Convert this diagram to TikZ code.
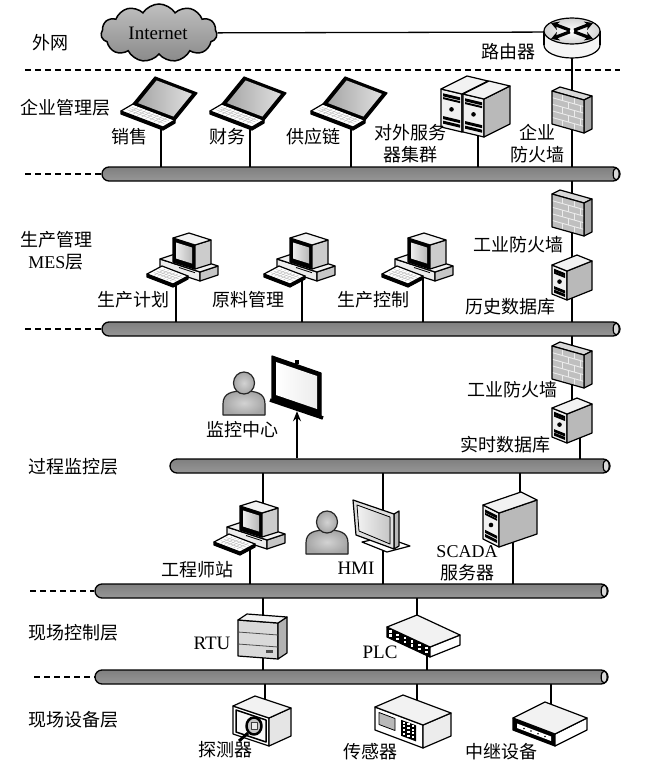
\documentclass[tikz,border=0pt]{standalone}
\usepackage{fontspec}
\setmainfont{Liberation Serif}
\newfontfamily\cjk{Noto Sans CJK SC}
\usetikzlibrary{shapes.symbols,arrows.meta,calc}
\pgfdeclarelayer{paper}
\pgfdeclarelayer{bg}
\pgfsetlayers{paper,bg,main}

% isometric box: front-top-left (#1,#2), front vector (#3,#4), side vector (#5,#6), height #7,
% front fill #8, side fill #9
\newcommand\isobox[9]{%
  \filldraw[fill=#8] (#1,#2) -- ++(#3,#4) -- ++(0,#7) -- ++({-1*(#3)},{-1*(#4)}) -- cycle;
  \filldraw[fill=#9] ({#1+#3},{#2+#4}) -- ++(#5,#6) -- ++(0,#7) -- ++({-1*(#5)},{-1*(#6)}) -- cycle;
  \filldraw[fill=gray!10] (#1,#2) -- ++(#3,#4) -- ++(#5,#6) -- ++({-1*(#3)},{-1*(#4)}) -- cycle;}

% key grid inside quadrilateral A B C D
\newcommand\keygrid[6]{%
  \foreach \kgt in {1,...,#5}{\pgfmathsetmacro\kgf{\kgt/(#5+1)}
    \draw[gray!55, line width=0.4pt] ($#1!\kgf!#2$) -- ($#4!\kgf!#3$);}
  \foreach \kgt in {1,...,#6}{\pgfmathsetmacro\kgf{\kgt/(#6+1)}
    \draw[gray!55, line width=0.4pt] ($#1!\kgf!#4$) -- ($#2!\kgf!#3$);}}

% server tower with drive bays on its front
\newcommand\tower[7]{%
  \isobox{#1}{#2}{#3}{#4}{#5}{#6}{#7}{gray!12}{gray!55}
  \pgfmathsetmacro\twsl{(#4)/(#3)}
  \foreach \twf/\twh in {0.10/3, 0.20/2, 0.70/3, 0.82/3}{
    \fill ({#1+2},{#2+2*\twsl+\twf*#7}) -- ++({#3-4},{(#3-4)*\twsl}) -- ++(0,\twh)
      -- ++({-(#3-4)},{-(#3-4)*\twsl}) -- cycle;}
  \fill ({#1+#3/2},{#2+#4/2+0.47*#7}) circle[radius=2.3pt];}

\newcommand\laptop[2]{%
  \begin{scope}[shift={(#1,#2)}]
    \filldraw[fill=black] (-38,8) -- (4,24) -- (16,17) -- (16,20) -- (4,27) -- (-38,11) -- cycle;
    \filldraw[fill=white] (-38,8) -- (4,24) -- (16,17) -- (-26,1) -- cycle;
    \keygrid{(-34,8)}{(3,22)}{(12,16)}{(-25,3)}{8}{3}
    \filldraw[fill=black] (-26,1) -- (16,17) -- (38,-10) -- (-4,-26) -- cycle;
    \fill[left color=gray!70, right color=gray!25]
      ($(-26,1)!0.16!(6,-4.5)$) -- ($(16,17)!0.16!(6,-4.5)$) --
      ($(38,-10)!0.16!(6,-4.5)$) -- ($(-4,-26)!0.16!(6,-4.5)$) -- cycle;
  \end{scope}}

\newcommand\desktop[2]{%
  \begin{scope}[shift={(#1,#2)}]
    \isobox{-23}{0}{40}{13}{18}{-6}{9}{gray!15}{gray!45}
    \draw[line width=0.8pt] (-4,8.5) -- (12,13.7);
    \isobox{-10}{-21}{22}{7}{16}{-5}{24}{black}{gray!40}
    \fill[left color=gray!15, right color=gray!55] (-7,-16.5) -- (9,-11.5) -- (9,4.5) -- (-7,-0.5) -- cycle;
    \filldraw[fill=black] (-36,15) -- (-10,25) -- (5,17) -- (5,20) -- (-10,28) -- (-36,18) -- cycle;
    \filldraw[fill=white] (-36,15) -- (-10,25) -- (5,17) -- (-21,7) -- cycle;
    \keygrid{(-32,15)}{(-10,23)}{(2,17)}{(-21,9)}{6}{3}
  \end{scope}}

\newcommand\firewall[2]{%
  \begin{scope}[shift={(#1,#2)}]
    \filldraw[fill=gray!30] (-20,-18) -- (-12,-22) -- (20,-13) -- (12,-9) -- cycle;
    \filldraw[fill=gray!70] (12,-9) -- (20,-13) -- (20,20) -- (12,24) -- cycle;
    \fill[gray!50] (-20,-18) -- (12,-9) -- (12,24) -- (-20,15) -- cycle;
    \begin{scope}
      \clip (-20,-18) -- (12,-9) -- (12,24) -- (-20,15) -- cycle;
      \foreach \r in {1,...,4} \draw[gray!15, line width=0.9pt] (-20,{-18+6.6*\r}) -- ++(32,9);
      \foreach \r/\a/\b in {0/-10/2, 1/-4/8, 2/-10/2, 3/-4/8, 4/-10/2}{
        \draw[gray!15, line width=0.9pt] (\a,{-18+6.6*\r+(\a+20)*9/32}) -- ++(0,6.6);
        \draw[gray!15, line width=0.9pt] (\b,{-18+6.6*\r+(\b+20)*9/32}) -- ++(0,6.6);}
    \end{scope}
    \draw (-20,-18) -- (12,-9) -- (12,24) -- (-20,15) -- cycle;
  \end{scope}}

\newcommand\person[2]{%
  \begin{scope}[shift={(#1,#2)}]
    \filldraw[draw=gray!30!black, inner color=gray!35, outer color=gray!70]
      (-21,21) -- (-21,10) .. controls (-21,-1) and (-12,-3) .. (0,-3)
      .. controls (12,-3) and (21,-1) .. (21,10) -- (21,21) -- cycle;
    \filldraw[draw=gray!30!black, inner color=gray!35, outer color=gray!70]
      (0,-11) ellipse [x radius=10.5pt, y radius=11pt];
  \end{scope}}

\newcommand\busend[1]{%
  \draw[line width=1.2pt, fill=gray!30] ($(#1.east)+(-4.5,0)$) ellipse [x radius=3pt, y radius=6pt];}

\begin{document}
\begin{tikzpicture}[x=1pt,y=-1pt,
  icon/.style={line width=1.2pt, line join=round},
  wire/.style={line width=1.3pt},
  layersep/.style={line width=1.2pt, dash pattern=on 6pt off 4pt},
  bus/.style={draw, line width=1.3pt, rounded corners=7pt, minimum height=14pt, inner sep=0pt,
    top color=gray!100, bottom color=gray!82},
  anchorpt/.style={inner sep=0pt, minimum size=0pt},
  zhtxt/.style={font=\cjk\fontsize{18}{22}\selectfont, inner sep=0pt, align=center},
  entxt/.style={font=\rmfamily\fontsize{19}{22}\selectfont, inner sep=0pt, align=center}]

\begin{pgfonlayer}{paper}
  \fill[white] (0,0) rectangle (650,764);
\end{pgfonlayer}
\useasboundingbox (0,0) rectangle (650,764);

% ---------------- separators and buses ----------------
\coordinate (s0a) at (25,70);
\coordinate (s0b) at (620,70);
\coordinate (s1) at (25,174);
\coordinate (s2) at (25,329);
\coordinate (s4) at (30,591);
\coordinate (s5) at (34,677);

\node[bus, minimum width=518pt] (bus1) at (361,174) {};
\node[bus, minimum width=518pt] (bus2) at (361,329) {};
\node[bus, minimum width=440pt] (bus3) at (390,466) {};
\node[bus, minimum width=513pt] (bus4) at (351.5,591) {};
\node[bus, minimum width=513pt] (bus5) at (351.5,677) {};
\busend{bus1}\busend{bus2}\busend{bus3}\busend{bus4}\busend{bus5}

\draw[layersep] (s0a) -- (s0b);
\draw[layersep] (s1) -- (bus1.west);
\draw[layersep] (s2) -- (bus2.west);
\draw[layersep] (s4) -- (bus4.west);
\draw[layersep] (s5) -- (bus5.west);

% ---------------- connection points ----------------
\node[anchorpt] (router) at (572,32) {};
\node[anchorpt] (sale) at (161,103) {};
\node[anchorpt] (fin) at (250,103) {};
\node[anchorpt] (supply) at (351,103) {};
\node[anchorpt] (farm) at (478,112) {};
\node[anchorpt] (fw1) at (572,109) {};
\node[anchorpt] (pc1) at (176,259) {};
\node[anchorpt] (pc2) at (302,259) {};
\node[anchorpt] (pc3) at (423,259) {};
\node[anchorpt] (fw2) at (572,212) {};
\node[anchorpt] (db1) at (572,277) {};
\node[anchorpt] (fw3) at (572,364) {};
\node[anchorpt] (db2) at (572,420) {};
\node[anchorpt] (db2L) at (580,420) {};
\node[anchorpt] (scr) at (297,411) {};
\node[anchorpt] (engT) at (263,527) {};
\node[anchorpt] (engB) at (250,527) {};
\node[anchorpt] (hmi) at (383,527) {};
\node[anchorpt] (scadaT) at (520,518) {};
\node[anchorpt] (scadaB) at (513,518) {};
\node[anchorpt] (rtu) at (263,636) {};
\node[anchorpt] (plcT) at (417,637) {};
\node[anchorpt] (plcB) at (427,637) {};
\node[anchorpt] (det) at (265,722) {};
\node[anchorpt] (sens) at (417,722) {};
\node[anchorpt] (relay) at (551,725) {};

% cloud
\node[cloud, cloud puffs=11, cloud puff arc=115, aspect=2.1, draw, line width=1.5pt,
  minimum width=116pt, minimum height=58pt, inner sep=0pt,
  top color=gray!50, bottom color=gray!92] (cloud) at (159,33) {};

% ---------------- wires ----------------
\begin{pgfonlayer}{bg}
  \draw[wire] (cloud) -- (router);
  \draw[wire] (router) -- (fw1) -- (fw2) -- (db1) -- (fw3) -- (db2);
  \draw[wire] (db2L) -- (db2L |- bus3);
  \foreach \d in {sale,fin,supply,farm}{\draw[wire] (\d) -- (\d |- bus1);}
  \foreach \d in {pc1,pc2,pc3}{\draw[wire] (\d) -- (\d |- bus2);}
  \draw[wire] (engT) -- (engT |- bus3);
  \draw[wire] (engB) -- (engB |- bus4);
  \draw[wire] (hmi |- bus3) -- (hmi |- bus4);
  \draw[wire] (scadaT) -- (scadaT |- bus3);
  \draw[wire] (scadaB) -- (scadaB |- bus4);
  \draw[wire] (rtu |- bus4) -- (rtu |- bus5);
  \draw[wire] (plcT) -- (plcT |- bus4);
  \draw[wire] (plcB) -- (plcB |- bus5);
  \foreach \d in {det,sens,relay}{\draw[wire] (\d) -- (\d |- bus5);}
\end{pgfonlayer}

% ---------------- icons ----------------
\begin{scope}[icon]
  % router
  \begin{scope}[shift={(572,31)}]
    \filldraw[fill=gray!8] (0,14) ellipse [x radius=28pt, y radius=13pt];
    \fill[gray!8] (-28,0) rectangle (28,14);
    \draw (-28,0) -- (-28,14) (28,0) -- (28,14);
    \filldraw[inner color=white, outer color=gray!35] (0,0) ellipse [x radius=28pt, y radius=13pt];
    \foreach \ex/\ey in {-21/-8, 21/8, -21/8, 21/-8}
      \draw[line width=3.2pt, -{Stealth[length=8pt,width=9pt]}] ({\ex*0.1},{\ey*0.1}) -- (\ex,\ey);
  \end{scope}

  % enterprise layer
  \laptop{159}{103}
  \laptop{248}{103}
  \laptop{349}{103}
  \tower{441}{89}{21}{5}{26}{-13}{38}
  \tower{463}{94}{21}{5}{26}{-13}{38}
  \firewall{572}{109}

  % MES layer
  \desktop{183}{259}
  \desktop{300}{259}
  \desktop{418}{259}
  \firewall{572}{212}
  \tower{552}{265}{15}{6}{25}{-10}{29}

  % supervision layer
  \firewall{572}{364}
  \tower{552}{408}{15}{6}{25}{-10}{29}
  \person{244}{394}
  \filldraw[fill=black] (272,356) -- (321,373) -- (321,416) -- (272,399) -- cycle;
  \fill[left color=white, right color=gray!15] (276,362) -- (317,376) -- (317,409) -- (276,395) -- cycle;
  \draw[line width=3.5pt] (270,400) -- (323,418);
  \fill (295,360) rectangle (299,364);
  \draw[line width=1.3pt, -{Stealth[length=10pt,width=8pt]}] (scr |- bus3.north) -- (scr);

  \desktop{250}{527}
  \person{327}{533}
  % HMI panel
  \filldraw[fill=white] (362,542) -- (385,537) -- (410,546) -- (387,552) -- cycle;
  \filldraw[fill=gray!55] (394,514) -- (399,511) -- (399,546) -- (394,549) -- cycle;
  \filldraw[fill=gray!25] (353,500) -- (394,514) -- (394,549) -- (356,535) -- cycle;
  \filldraw[left color=gray!10, right color=gray!45, line width=0.8pt]
    (357,505) -- (390,517) -- (390,544) -- (359,531) -- cycle;
  \tower{483}{505}{16}{8}{38}{-13}{34}

  % control layer
  \isobox{238}{620}{40}{3}{9}{-6}{36}{gray!30}{gray!60}
  \draw[gray!60!black, line width=0.8pt] (238,632) -- (278,635) (238,644) -- (278,647);
  \fill[gray!60!black] (266,650) rectangle (273,653);
  \isobox{387}{627}{43}{20}{30}{-12}{10}{black}{white}
  \foreach \i in {0,...,5}{
    \fill[white] ({387+(\i+0.5)*43/6-1.3},{627+(\i+0.5)*20/6+1.8}) rectangle ++(2.6,2.2);
    \fill[white] ({387+(\i+0.5)*43/6-1.3},{627+(\i+0.5)*20/6+5.8}) rectangle ++(2.6,2.2);}

  % field layer: detector
  \isobox{233}{706}{36}{12}{22}{-10}{28}{white}{gray!20}
  \filldraw[fill=gray!5, line width=1.5pt] (236,710) -- ++(30,10) -- ++(0,22) -- ++(-30,-10) -- cycle;
  \draw[line width=3pt] (248,733) -- (239,741);
  \filldraw[fill=gray!45, line width=2.5pt] (254,726) ellipse [x radius=7.5pt, y radius=8.5pt];
  \filldraw[fill=gray!15, draw=gray!50!black, line width=0.6pt] (251,722) rectangle (257,729);
  % sensor
  \isobox{375}{707}{48}{18}{28}{-12}{23}{white}{gray!15}
  \filldraw[fill=gray!55, line width=0.8pt] (379,712.5) -- ++(16,6) -- ++(0,12) -- ++(-16,-6) -- cycle;
  \fill (401,719.75) -- ++(15,5.6) -- ++(0,16) -- ++(-15,-5.6) -- cycle;
  \foreach \c in {0,1,2}{\foreach \r in {0,...,3}{
    \fill[white] ({402.5+\c*4.5},{721.5+\c*4.5*0.375+\r*3.8}) rectangle ++(2.5,2);}}
  % repeater
  \isobox{513}{718}{42}{16}{32}{-16}{12}{black}{white}
  \fill[white] (517,723.5) -- ++(34,12.95) -- ++(0,4.5) -- ++(-34,-12.95) -- cycle;
  \foreach \i in {1,...,4} \fill ({517+\i*7},{723.5+\i*7*0.381+2.25}) circle[radius=0.9pt];
\end{scope}

% ---------------- labels ----------------
\node[entxt] at (158,33) {Internet};
\node[zhtxt] at (50,43) {外网};
\node[zhtxt] at (508,52) {路由器};
\node[zhtxt] at (65,108) {企业管理层};
\node[zhtxt] at (129,137) {销售};
\node[zhtxt] at (227,137) {财务};
\node[zhtxt] at (313,137) {供应链};
\node[zhtxt] at (410,144) {对外服务\\器集群};
\node[zhtxt] at (537,144) {企业\\防火墙};
\node[zhtxt] at (56,251) {生产管理\\{\rmfamily MES}层};
\node[zhtxt] at (133,300) {生产计划};
\node[zhtxt] at (248,300) {原料管理};
\node[zhtxt] at (373,300) {生产控制};
\node[zhtxt] at (518,245) {工业防火墙};
\node[zhtxt] at (510,307) {历史数据库};
\node[zhtxt] at (512,390) {工业防火墙};
\node[zhtxt] at (505,445) {实时数据库};
\node[zhtxt] at (242,430) {监控中心};
\node[zhtxt] at (73,467) {过程监控层};
\node[zhtxt] at (197,570) {工程师站};
\node[entxt] at (356,568) {HMI};
\node[zhtxt] at (467,563) {{\rmfamily SCADA}\\服务器};
\node[zhtxt] at (73,633) {现场控制层};
\node[entxt] at (212,643) {RTU};
\node[entxt] at (380,652) {PLC};
\node[zhtxt] at (73,720) {现场设备层};
\node[zhtxt] at (225,750) {探测器};
\node[zhtxt] at (370,752) {传感器};
\node[zhtxt] at (501,752) {中继设备};
\end{tikzpicture}
\end{document}
